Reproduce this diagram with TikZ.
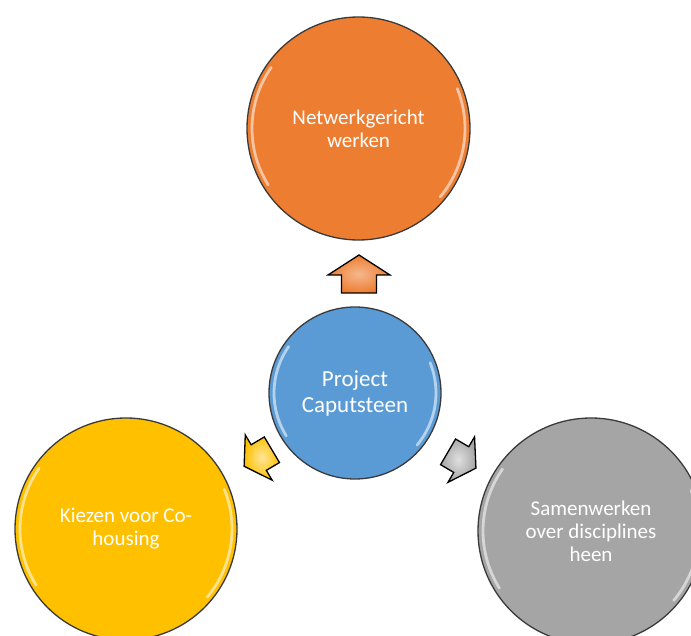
\documentclass[tikz,border=0pt]{standalone}
\usepackage{fontspec}
\setmainfont{Carlito}
\definecolor{cOrange}{HTML}{ED7D31}
\definecolor{cBlue}{HTML}{5B9BD5}
\definecolor{cYellow}{HTML}{FFC000}
\definecolor{cGray}{HTML}{A5A5A5}
\definecolor{cEdge}{HTML}{3A3A3A}
\tikzset{
  bubble/.style={circle, draw=cEdge, line width=1.3pt, inner sep=0pt, text=white, align=center,
    font=\fontsize{21}{23}\selectfont},
  gloss/.style={white, opacity=0.55, line width=2.8pt, line cap=round},
  blockarrow/.pic={
    \path[pic actions] (0,19) -- (31,-1) -- (17.5,-1) -- (17.5,-19) -- (-17.5,-19) -- (-17.5,-1) -- (-31,-1) -- cycle;
  },
  arrowstyle/.style={draw=black, line width=1.3pt, line join=miter}
}
\newcommand{\glossarcs}[3]{%
  \draw[gloss] (#1,#2) ++(145:#3-5) arc[start angle=145, end angle=212, radius=#3-5];
  \draw[gloss] (#1,#2) ++(-40:#3-5) arc[start angle=-40, end angle=22, radius=#3-5];
}
\begin{document}
\begin{tikzpicture}[x=1pt,y=1pt]
\useasboundingbox (0,0) rectangle (691,635);
\clip (0,0) rectangle (691,635);
\fill[white] (0,0) rectangle (691,635);

% circles
\node[bubble, fill=cOrange, minimum size=223pt] (net) at (358.5,506.5) {Netwerkgericht\\werken};
\glossarcs{358.5}{506.5}{111.5}
\node[bubble, fill=cBlue, minimum size=172pt, font=\fontsize{23}{26}\selectfont] (proj) at (355,242) {Project\\Caputsteen};
\glossarcs{355}{242}{86}
\node[bubble, fill=cYellow, minimum size=222pt] (kiez) at (126,106) {Kiezen voor Co-\\housing};
\glossarcs{126}{106}{111}
\node[bubble, fill=cGray, minimum size=226pt] (samen) at (591,104) {Samenwerken\\over disciplines\\heen};
\glossarcs{591}{104}{113}

% arrows
\pic[arrowstyle, inner color=cOrange!55!white, outer color=cOrange] (aup) at (359,361) {blockarrow};
\pic[arrowstyle, rotate=120.7, scale=0.85, inner color=cYellow!40!white, outer color=cYellow] (aleft) at (258,177) {blockarrow};
\pic[arrowstyle, rotate=-120.3, scale=0.85, inner color=cGray!35!white, outer color=cGray] (aright) at (462,175) {blockarrow};
\end{tikzpicture}
\end{document}
